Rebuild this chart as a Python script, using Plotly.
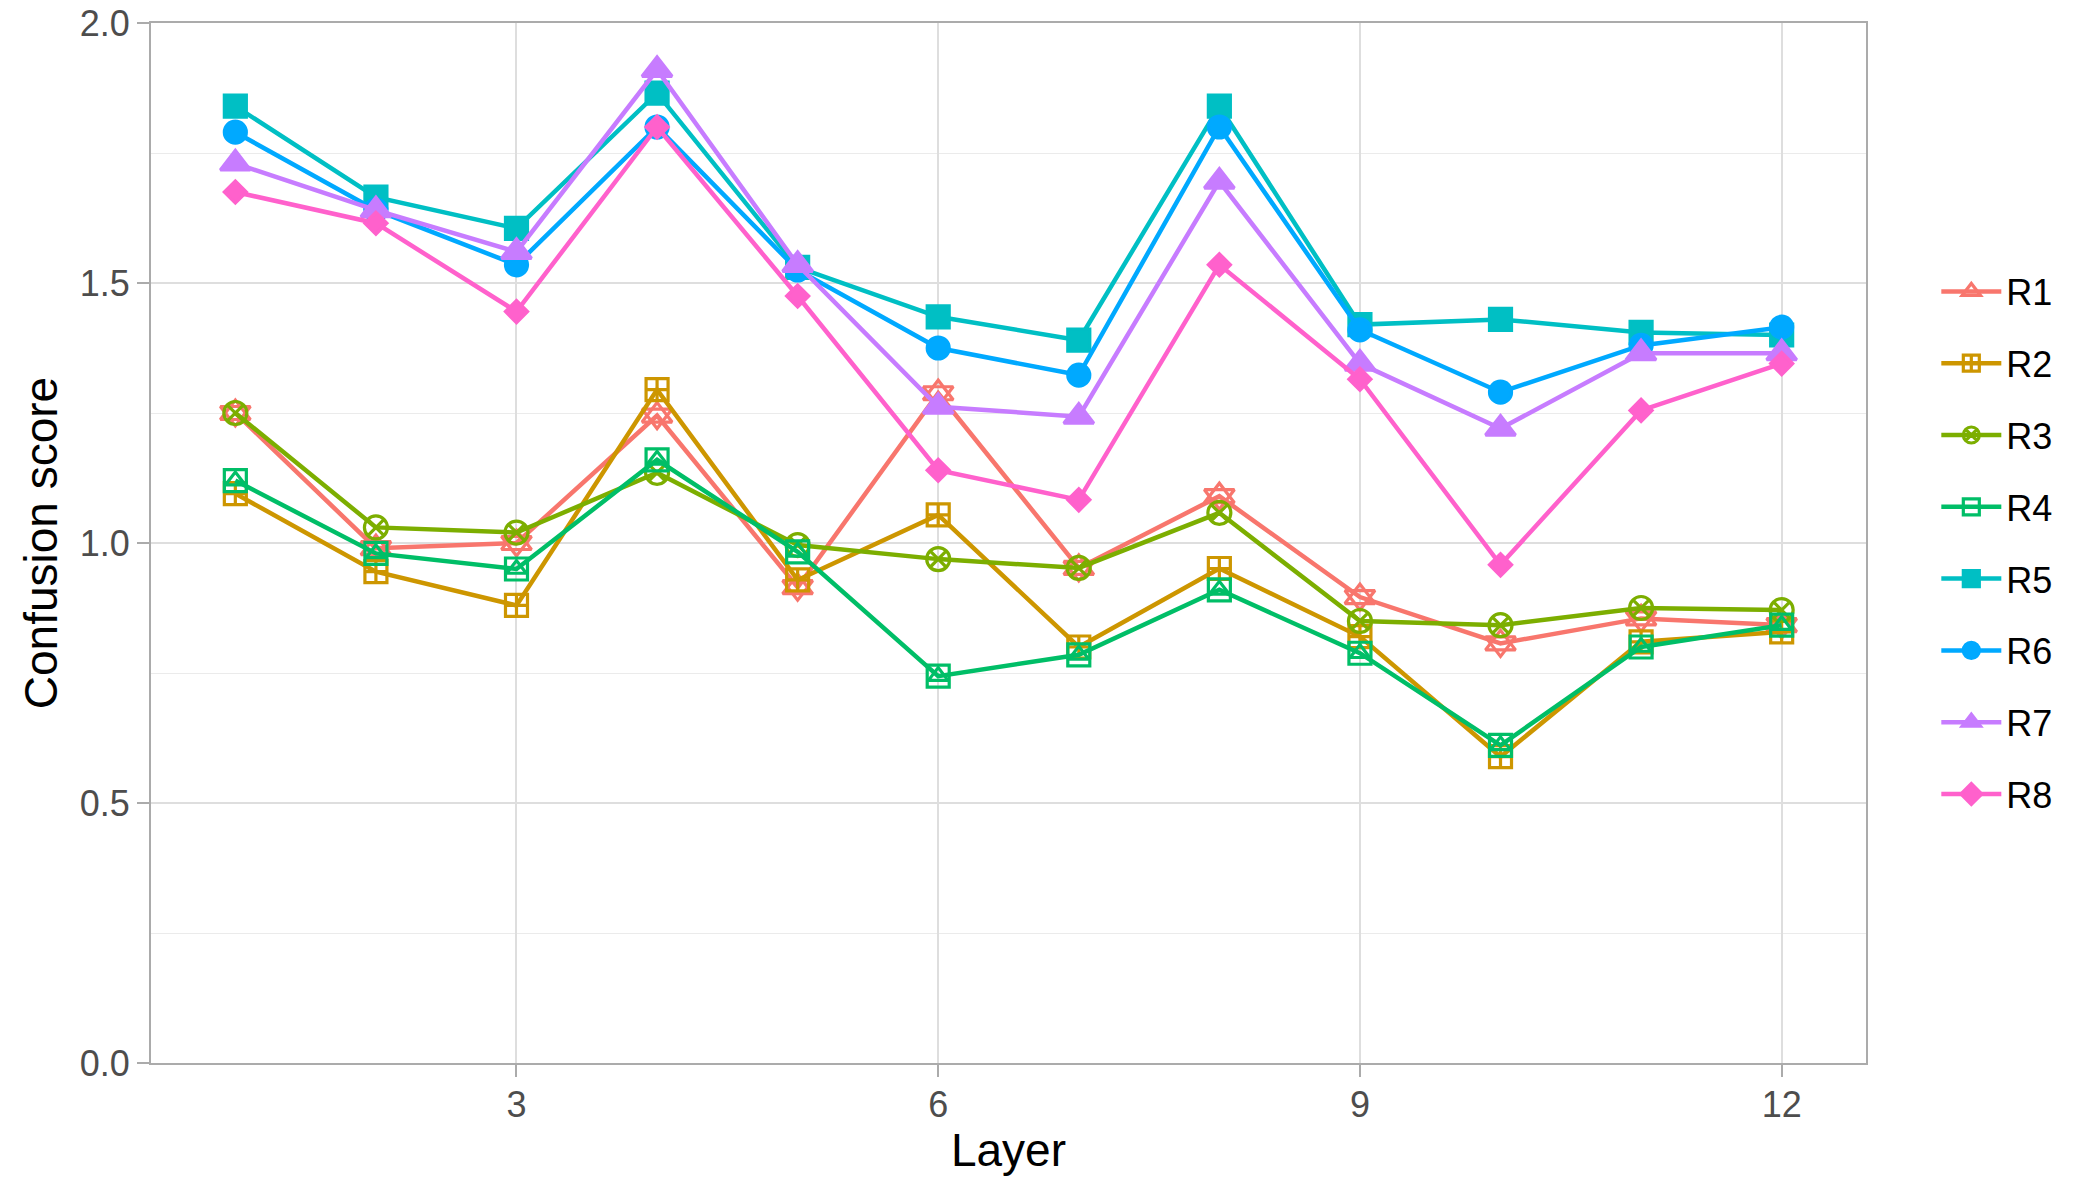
import plotly.graph_objects as go

# 資料
layers = list(range(1, 13))
series_names = ['R1', 'R2', 'R3', 'R4', 'R5', 'R6', 'R7', 'R8']

r1 = [1.25, 0.99, 1.00, 1.245, 0.915, 1.288, 0.952, 1.09, 0.896, 0.807, 0.855, 0.842]
r2 = [1.095, 0.945, 0.88, 1.295, 0.929, 1.054, 0.80, 0.951, 0.82, 0.589, 0.81, 0.829]
r3 = [1.25, 1.03, 1.02, 1.135, 0.996, 0.969, 0.952, 1.058, 0.85, 0.842, 0.875, 0.871]
r4 = [1.12, 0.98, 0.95, 1.16, 0.983, 0.744, 0.785, 0.91, 0.788, 0.611, 0.80, 0.842]
r5 = [1.84, 1.665, 1.605, 1.865, 1.53, 1.435, 1.39, 1.84, 1.42, 1.43, 1.405, 1.40]
r6 = [1.79, 1.64, 1.535, 1.80, 1.525, 1.375, 1.323, 1.80, 1.41, 1.29, 1.38, 1.415]
r7 = [1.73, 1.64, 1.56, 1.91, 1.535, 1.262, 1.243, 1.695, 1.345, 1.22, 1.365, 1.365]
r8 = [1.675, 1.615, 1.445, 1.80, 1.475, 1.14, 1.083, 1.535, 1.315, 0.958, 1.255, 1.345]

y_ticks = [0.0, 0.5, 1.0, 1.5, 2.0]
y_ticktext = ['0.0', '0.5', '1.0', '1.5', '2.0']
x_ticks = [3, 6, 9, 12]

# 樣式
colors = ['#F8766D', '#CD9600', '#7CAE00', '#00BE67', '#00BFC4', '#00A9FF', '#C77CFF', '#FF61CC']
symbols = ['triangle-up-open', 'square-cross-open', 'circle-x-open', 'square-open',
           'square', 'circle', 'triangle-up', 'diamond']
sizes = [26, 22, 23, 22, 22, 22, 26, 17]
# 疊加第二個符號 (R1 六芒星, R4 方框內三角)
overlay = {0: ('triangle-down-open', 26), 3: ('triangle-up-open', 17)}

all_y = [r1, r2, r3, r4, r5, r6, r7, r8]
font_family = 'Liberation Sans, Arial, Helvetica, sans-serif'

fig = go.Figure()

for i, (name, ys) in enumerate(zip(series_names, all_y)):
    fig.add_trace(go.Scatter(
        x=layers, y=ys, name=name, mode='lines+markers',
        legendgroup=name,
        line=dict(color=colors[i], width=4.5),
        marker=dict(symbol=symbols[i], size=sizes[i], color=colors[i],
                    line=dict(color=colors[i], width=3.2))))
    if i in overlay:
        sym, sz = overlay[i]
        fig.add_trace(go.Scatter(
            x=layers, y=ys, mode='markers', showlegend=False,
            legendgroup=name, hoverinfo='skip',
            marker=dict(symbol=sym, size=sz, color=colors[i],
                        line=dict(color=colors[i], width=3.2))))

# 座標軸
fig.update_xaxes(range=[0.4, 12.6], tickvals=x_ticks, automargin=False,
                 showgrid=True, gridcolor='#DEDEDE', gridwidth=1.5,
                 zeroline=False, showline=True, linecolor='#ABABAB', linewidth=2,
                 mirror=True, ticks='outside', ticklen=12, tickwidth=2, tickcolor='#ABABAB',
                 ticklabelstandoff=-3, ticklabeloverflow='allow',
                 tickfont=dict(size=36, color='#4D4D4D', family=font_family),
                 title=dict(text='Layer', font=dict(size=46, color='black', family=font_family),
                            standoff=10))

fig.update_yaxes(range=[0, 2], tickvals=y_ticks, ticktext=y_ticktext, automargin=False,
                 showgrid=True, gridcolor='#DEDEDE', gridwidth=1.5,
                 minor=dict(dtick=0.25, showgrid=True, gridcolor='#EBEBEB', gridwidth=1),
                 zeroline=False, showline=True, linecolor='#ABABAB', linewidth=2,
                 mirror=True, ticks='outside', ticklen=12, tickwidth=2, tickcolor='#ABABAB',
                 ticklabeloverflow='allow',
                 tickfont=dict(size=36, color='#4D4D4D', family=font_family),
                 title=dict(text='Confusion score', font=dict(size=46, color='black', family=font_family),
                            standoff=8))

fig.update_layout(width=2100, height=1200,
                  plot_bgcolor='white', paper_bgcolor='white',
                  margin=dict(l=151, r=234, t=23, b=137),
                  font=dict(family=font_family),
                  legend=dict(x=1.041, y=0.5, xanchor='left', yanchor='middle',
                              font=dict(size=36, color='black', family=font_family),
                              tracegroupgap=22, itemwidth=60,
                              bgcolor='rgba(0,0,0,0)'),
                  showlegend=True)

# 去掉瀏覽器預設的 body 邊距, 讓圖從左上角開始; 不顯示工具列
fig.write_html("out.html", config={'displayModeBar': False},
               post_script="document.body.style.margin = '0px';")
